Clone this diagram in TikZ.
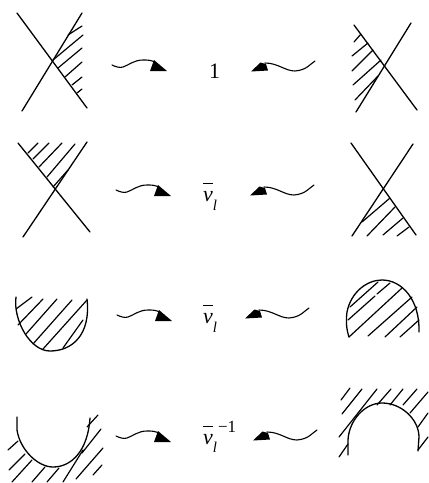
\documentclass[tikz,border=0pt]{standalone}
\usepackage{fontspec}
\setmainfont{Liberation Serif}
\newcommand{\nubar}{\rlap{\raisebox{17.2pt}{\rule{10pt}{0.9pt}}}\textit{ν}}
\newcommand{\subl}[1]{\raisebox{#1}{\fontsize{15}{15}\selectfont\textit{l}}}
\tikzset{
  x=1pt,y=-1pt,
  edge/.style={line width=1.3pt,line cap=round,line join=round,black},
  hatch/.style={line width=1.2pt,line cap=round,black},
  lab/.style={inner sep=0pt,anchor=base west,font=\fontsize{22}{24}\selectfont},
  squigR/.pic={
    \draw[line width=1.1pt,line cap=round] (0,0) .. controls (4,2) and (8,3) .. (11,2) .. controls (17,0) and (22,-5) .. (31,-5) .. controls (36,-5) and (40,-5) .. (44,-2);
    \fill (42,-5) -- (55,6) -- (38,6) -- cycle;
  },
  squigL/.pic={
    \draw[line width=1.1pt,line cap=round] (0,0) .. controls (-5,3) and (-8,9) .. (-20,10) .. controls (-30,10) and (-37,2) .. (-50,2);
    \fill (-54.5,1.5) -- (-64,10.5) -- (-47,9.5) -- (-49,3) -- cycle;
  }
}
\begin{document}
\begin{tikzpicture}
\useasboundingbox (0,0) rectangle (429,483);
% row 1 left
\draw[edge] (17,13) -- (87,108);
\draw[edge] (82,13) -- (22,111);
\draw[hatch] (82,26)--(68,35) (83,35)--(53,60) (82,48)--(58,68) (82,62)--(65,77) (82,77)--(72,85) (82,89)--(77,93);
% row 1 right
\draw[edge] (354,25) -- (417,110);
\draw[edge] (411,23) -- (356,112);
\draw[hatch] (361,34)--(354,42) (352,56)--(368,43) (352,71)--(373,50) (353,85)--(381,60) (355,100)--(378,76);
% row 2 left
\draw[edge] (18,143) -- (90,232);
\draw[edge] (87,142) -- (23,237);
\draw[hatch] (38,143)--(28,153) (49,143)--(33,159) (62,143)--(39,167) (75,144)--(47,177) (68,170)--(53,187);
% row 2 right
\draw[edge] (351,143) -- (416,235);
\draw[edge] (413,144) -- (352,236);
\draw[hatch] (390,198)--(362,222) (395,207)--(367,236) (403,218)--(383,235) (409,227)--(397,236);
% row 3 left
\draw[edge] (16,297) .. controls (13,320) and (30,351) .. (50,351) .. controls (72,351) and (91,335) .. (87,299);
\draw[hatch] (32,297)--(16,309) (43,299)--(18,325) (57,299)--(26,334) (72,300)--(33,344) (87,300)--(43,349) (83,320)--(63,348);
% row 3 right
\draw[edge] (349,337) .. controls (346,328) and (346,320) .. (347,312) .. controls (351,292) and (367,280) .. (382,280) .. controls (402,280) and (420,300) .. (419,332);
\draw[hatch] (378,282)--(350,307) (390,283)--(377,294) (375,296)--(348,320) (402,288)--(349,337) (412,297)--(368,336) (417,307)--(385,337) (419,320)--(400,337);
% row 4 left
\draw[edge] (17,417) -- (17,430) .. controls (20,450) and (38,467) .. (53,467) .. controls (72,467) and (88,450) .. (90,418);
\draw[hatch] (18,441)--(8,450) (25,454)--(9,470) (32,460)--(12,482) (45,467)--(32,482) (59,468)--(47,482) (83,450)--(63,482) (103,448)--(76,479) (101,429)--(82,453) (98,415)--(87,427) (102,465)--(93,475);
% row 4 right
\draw[edge] (348,455) -- (348,440) .. controls (349,420) and (365,403) .. (382,403) .. controls (402,403) and (419,420) .. (419,437) -- (418,451);
\draw[hatch] (350,388)--(341,400) (362,389)--(342,414) (377,389)--(339,437) (391,389)--(377,405) (403,389)--(390,405) (417,389)--(403,405) (428,392)--(410,413) (428,413)--(418,427) (428,437)--(418,450) (348,444)--(339,457);
% labels
\node[lab] (t1) at (209,78) {1};
\node[lab] (t2) at (203,201) {\nubar\subl{-9.5pt}};
\node[lab] (t3) at (203,323) {\nubar\subl{-9.5pt}};
\node[lab] (t4) at (203,444) {\nubar\subl{-8pt}\kern1pt\raisebox{12pt}{\fontsize{17}{17}\selectfont −1}};
% squiggles
\pic at (112,65) {squigR};
\pic at (116,190) {squigR};
\pic at (117,315) {squigR};
\pic at (116,436) {squigR};
\pic at (315,61) {squigL};
\pic at (314,185) {squigL};
\pic at (309,308) {squigL};
\pic at (317,430) {squigL};
\end{tikzpicture}
\end{document}
